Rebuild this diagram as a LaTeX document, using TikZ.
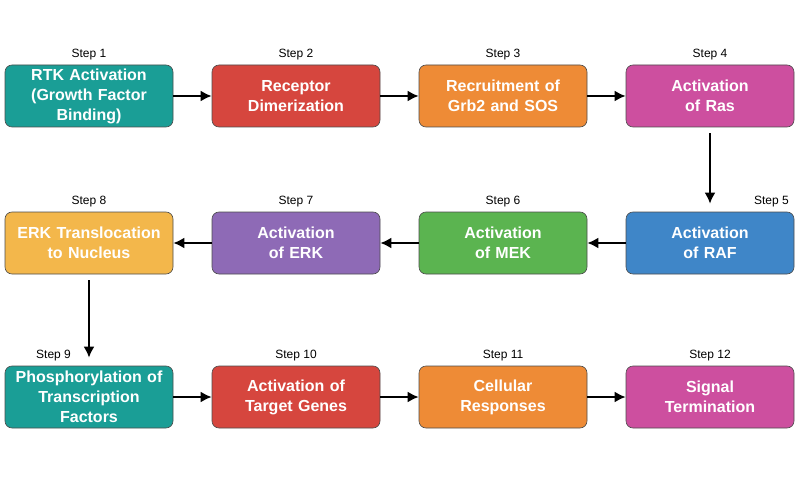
\documentclass[tikz,border=0pt]{standalone}
\usepackage{fontspec}
\setmainfont{Liberation Sans}
\usetikzlibrary{arrows.meta,positioning}
\definecolor{cTeal}{HTML}{1A9E96}
\definecolor{cRed}{HTML}{D6463E}
\definecolor{cOrange}{HTML}{EE8B36}
\definecolor{cPink}{HTML}{CD4F9F}
\definecolor{cBlue}{HTML}{3F86C8}
\definecolor{cGreen}{HTML}{5BB450}
\definecolor{cPurple}{HTML}{8E6AB6}
\definecolor{cYellow}{HTML}{F3B74B}
\tikzset{
  stepbox/.style={draw=black!70, line width=0.6pt, rounded corners=7pt, minimum width=168pt, minimum height=62pt, text width=160pt, align=center, text=white, font=\fontsize{16}{20}\selectfont\bfseries},
  lbl/.style={font=\fontsize{12}{14}\selectfont},
  flow/.style={-{Latex[length=11pt,width=11pt]}, line width=2.2pt}
}
\begin{document}
\begin{tikzpicture}[x=1pt,y=1pt]
	\useasboundingbox (0,0) rectangle (800,480);
	
	% row 1
	\node[stepbox, fill=cTeal]   (s1)  at (89,384)  {RTK Activation\\(Growth Factor\\Binding)};
	\node[stepbox, fill=cRed]    (s2)  at (296,384) {Receptor\\Dimerization};
	\node[stepbox, fill=cOrange] (s3)  at (503,384) {Recruitment of\\Grb2 and SOS};
	\node[stepbox, fill=cPink]   (s4)  at (710,384) {Activation\\of Ras};
	
	% row 2
	\node[stepbox, fill=cBlue]   (s5)  at (710,237) {Activation\\of RAF};
	\node[stepbox, fill=cGreen]  (s6)  at (503,237) {Activation\\of MEK};
	\node[stepbox, fill=cPurple] (s7)  at (296,237) {Activation\\of ERK};
	\node[stepbox, fill=cYellow] (s8)  at (89,237)  {ERK Translocation\\to Nucleus};
	
	% row 3
	\node[stepbox, fill=cTeal]   (s9)  at (89,83)   {Phosphorylation of\\Transcription\\Factors};
	\node[stepbox, fill=cRed]    (s10) at (296,83)  {Activation of\\Target Genes};
	\node[stepbox, fill=cOrange] (s11) at (503,83)  {Cellular\\Responses};
	\node[stepbox, fill=cPink]   (s12) at (710,83)  {Signal\\Termination};
	
	% step labels
	\foreach \n in {1,2,3,4,6,7,8,10,11,12} { \node[lbl, above=1pt of s\n] {Step \n}; }
	\node[lbl, above left=1pt and 2pt of s5.north east] {Step 5};
	\node[lbl, above right=1pt and 28pt of s9.north west] {Step 9};
	
	% arrows
	\draw[flow] (s1) -- (s2);
	\draw[flow] (s2) -- (s3);
	\draw[flow] (s3) -- (s4);
	\draw[flow] ([yshift=-6pt]s4.south) -- ([yshift=8pt]s5.north);
	\draw[flow] (s5) -- (s6);
	\draw[flow] (s6) -- (s7);
	\draw[flow] (s7) -- (s8);
	\draw[flow] ([yshift=-6pt]s8.south) -- ([yshift=8pt]s9.north);
	\draw[flow] (s9) -- (s10);
	\draw[flow] (s10) -- (s11);
	\draw[flow] (s11) -- (s12);

\end{tikzpicture}
\end{document}
